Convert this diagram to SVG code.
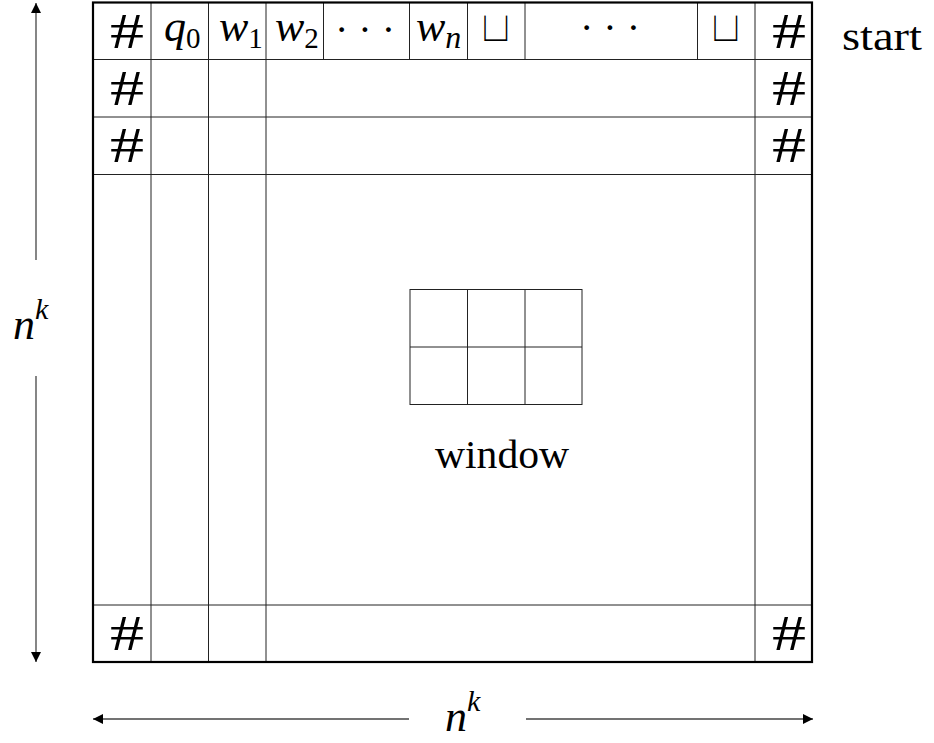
<svg xmlns="http://www.w3.org/2000/svg" width="934" height="743" viewBox="0 0 934 743">
<style>
.thin{stroke:#222;stroke-width:1;fill:none}
.thick{stroke:#000;stroke-width:2.2;fill:none}
.hash{font-family:"Liberation Serif","DejaVu Serif",serif;font-size:50px;fill:#000;text-anchor:middle}
.rm{font-family:"Liberation Serif","DejaVu Serif",serif;font-size:40px;fill:#000}
.mi{font-family:"Liberation Serif","DejaVu Serif",serif;font-style:italic;font-size:44px;fill:#000}
.sub{font-style:normal;font-size:29px}
.sym{font-family:"DejaVu Sans",sans-serif;font-size:44px;fill:#000;stroke:#fff;stroke-width:2;text-anchor:middle}
.arr{stroke:#444;stroke-width:1.3;fill:none}
</style>
<defs>
<marker id="ah" viewBox="0 0 10 10" refX="10" refY="5" markerWidth="10" markerHeight="10" markerUnits="userSpaceOnUse" orient="auto-start-reverse">
<path d="M0,0 L10,5 L0,10 z" fill="#000"/>
</marker>
</defs>
<rect width="934" height="743" fill="#fff"/>
<g id="tape-grid">
<line class="thin" x1="93" y1="59.5" x2="812" y2="59.5"/>
<line class="thin" x1="93" y1="117" x2="812" y2="117"/>
<line class="thin" x1="93" y1="174.5" x2="812" y2="174.5"/>
<line class="thin" x1="93" y1="605" x2="812" y2="605"/>
<line class="thin" x1="151" y1="2" x2="151" y2="662"/>
<line class="thin" x1="208.5" y1="2" x2="208.5" y2="662"/>
<line class="thin" x1="266" y1="2" x2="266" y2="662"/>
<line class="thin" x1="323.5" y1="2" x2="323.5" y2="59.5"/>
<line class="thin" x1="409.5" y1="2" x2="409.5" y2="59.5"/>
<line class="thin" x1="467.5" y1="2" x2="467.5" y2="59.5"/>
<line class="thin" x1="525" y1="2" x2="525" y2="59.5"/>
<line class="thin" x1="697.5" y1="2" x2="697.5" y2="59.5"/>
<line class="thin" x1="755" y1="2" x2="755" y2="662"/>
<rect class="thick" x="93" y="2.5" width="719" height="659.5"/>
</g>
<g id="row-start">
<text class="hash" x="127" y="48" textLength="34" lengthAdjust="spacingAndGlyphs">#</text>
<text class="mi" x="164" y="41">q<tspan class="sub" dy="7">0</tspan></text>
<text class="mi" x="219" y="41">w<tspan class="sub" dy="7">1</tspan></text>
<text class="mi" x="275" y="41">w<tspan class="sub" dy="7">2</tspan></text>
<text class="rm" x="365" y="43" text-anchor="middle">· · ·</text>
<text class="mi" x="416" y="41">w<tspan font-size="32px" dy="7">n</tspan></text>
<text class="sym" x="496" y="42">⊔</text>
<text class="rm" x="610" y="41" text-anchor="middle">· · ·</text>
<text class="sym" x="726" y="42">⊔</text>
<text class="hash" x="789" y="48" textLength="34" lengthAdjust="spacingAndGlyphs">#</text>
<text class="rm" x="842" y="50" textLength="80" lengthAdjust="spacingAndGlyphs">start</text>
</g>
<g id="border-hashes">
<text class="hash" x="127" y="105" textLength="34" lengthAdjust="spacingAndGlyphs">#</text>
<text class="hash" x="789" y="105" textLength="34" lengthAdjust="spacingAndGlyphs">#</text>
<text class="hash" x="127" y="162" textLength="34" lengthAdjust="spacingAndGlyphs">#</text>
<text class="hash" x="789" y="162" textLength="34" lengthAdjust="spacingAndGlyphs">#</text>
<text class="hash" x="127" y="650" textLength="34" lengthAdjust="spacingAndGlyphs">#</text>
<text class="hash" x="789" y="650" textLength="34" lengthAdjust="spacingAndGlyphs">#</text>
</g>
<g id="window">
<rect class="thin" x="410" y="289.5" width="172" height="115"/>
<line class="thin" x1="467.5" y1="289.5" x2="467.5" y2="404.5"/>
<line class="thin" x1="525" y1="289.5" x2="525" y2="404.5"/>
<line class="thin" x1="410" y1="347" x2="582" y2="347"/>
<text class="rm" x="502" y="468" text-anchor="middle" textLength="134" lengthAdjust="spacingAndGlyphs">window</text>
</g>
<g id="connectors">
<line class="arr" x1="36" y1="260" x2="36" y2="3" marker-end="url(#ah)"/>
<line class="arr" x1="36" y1="376" x2="36" y2="662" marker-end="url(#ah)"/>
<line class="arr" x1="409" y1="719" x2="93" y2="719" marker-end="url(#ah)"/>
<line class="arr" x1="526" y1="719" x2="813" y2="719" marker-end="url(#ah)"/>
</g>
<g id="dimension-labels">
<text class="mi" x="13" y="339">n<tspan font-size="30px" dy="-20">k</tspan></text>
<text class="mi" x="445" y="731">n<tspan font-size="30px" dy="-20">k</tspan></text>
</g>
</svg>
